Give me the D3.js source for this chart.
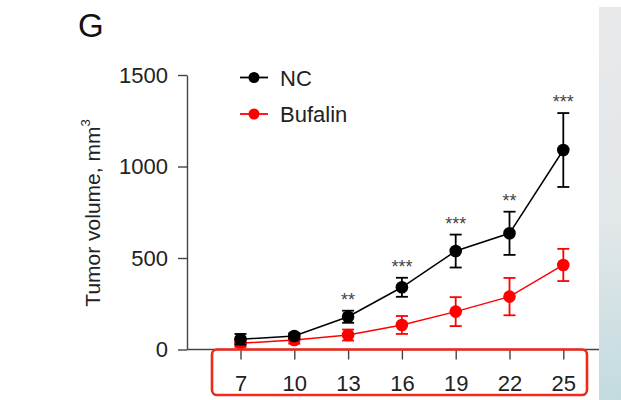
<!DOCTYPE html>
<html><head><meta charset="utf-8">
<script src="https://cdn.jsdelivr.net/npm/d3@7"></script>
<style>body{margin:0;background:#fff}svg{display:block}text{font-family:"Liberation Sans",Arial,sans-serif}</style>
</head><body>
<script>
const days = [7, 10, 13, 16, 19, 22, 25];
const ncMean = [56, 74, 179, 340, 538, 635, 1090];
const ncErr = [29, 15, 33, 52, 90, 118, 202];
const bufMean = [34, 52, 79, 134, 207, 289, 462];
const bufErr = [20, 20, 30, 49, 79, 102, 88];
const sigLabels = ["", "", "**", "***", "***", "**", "***"];
const yTicks = [0, 500, 1000, 1500];
const seriesNames = ["NC", "Bufalin"];
const seriesColors = ["#000000", "#ff0000"];

const W = 621, H = 400;
const svg = d3.select("body").append("svg").attr("width", W).attr("height", H);

// right gray panel
const defs = svg.append("defs");
const grad = defs.append("linearGradient").attr("id", "pg").attr("x1", 0).attr("y1", 0).attr("x2", 0).attr("y2", 1);
grad.append("stop").attr("offset", "0").attr("stop-color", "#e8e9eb");
grad.append("stop").attr("offset", "0.55").attr("stop-color", "#e2e7e9");
grad.append("stop").attr("offset", "1").attr("stop-color", "#c2dbdf");
svg.append("rect").attr("x", 599).attr("y", 7).attr("width", 22).attr("height", 393).attr("fill", "url(#pg)");

const x = d3.scaleLinear().domain([7, 25]).range([240.5, 563.3]);
const y = d3.scaleLinear().domain([0, 1500]).range([349.5, 75]);

// panel letter
svg.append("text").attr("x", 78).attr("y", 37).attr("font-size", 33).attr("font-family", "'Open Sans',sans-serif").attr("fill", "#111").text("G");

const axisColor = "#444";
// y axis
const yAxis = d3.axisLeft(y).tickValues(yTicks).tickFormat(d3.format("d")).tickSize(9).tickPadding(10).tickSizeOuter(0);
const gy = svg.append("g").attr("transform", "translate(187,0)").call(yAxis);
gy.select(".domain").attr("stroke", axisColor).attr("stroke-width", 1.4);
gy.selectAll(".tick line").attr("stroke", axisColor).attr("stroke-width", 1.4);
gy.selectAll(".tick text").attr("font-size", 22).attr("fill", "#222").attr("font-family", "'Liberation Sans',Arial,sans-serif");

// x axis
const xAxis = d3.axisBottom(x).tickValues(days).tickFormat(d3.format("d")).tickSize(10).tickPadding(16).tickSizeOuter(0);
const gx = svg.append("g").attr("transform", "translate(0,349.5)").call(xAxis);
gx.select(".domain").attr("d", "M187,0H599").attr("stroke", axisColor).attr("stroke-width", 1.4);
gx.selectAll(".tick line").attr("stroke", axisColor).attr("stroke-width", 1.4);
gx.selectAll(".tick text").attr("font-size", 22).attr("fill", "#222").attr("font-family", "'Liberation Sans',Arial,sans-serif");

// y label
const yl = svg.append("text").attr("transform", "translate(100,213) rotate(-90)").attr("text-anchor", "middle")
  .attr("font-size", 21).attr("fill", "#222");
yl.append("tspan").text("Tumor volume, mm");
yl.append("tspan").attr("dy", -10).attr("font-size", 13).text("3");

// series
const series = [
  {name: seriesNames[0], mean: ncMean, err: ncErr, color: seriesColors[0]},
  {name: seriesNames[1], mean: bufMean, err: bufErr, color: seriesColors[1]}
];
const line = d3.line().x((d, i) => x(days[i])).y(d => y(d));
[series[1], series[0]].forEach(s => {
  const g = svg.append("g");
  g.append("path").attr("d", line(s.mean)).attr("fill", "none").attr("stroke", s.color).attr("stroke-width", 1.5);
  const eb = g.selectAll(".eb").data(s.mean).enter().append("g");
  eb.append("line").attr("x1", (d, i) => x(days[i])).attr("x2", (d, i) => x(days[i]))
    .attr("y1", (d, i) => y(d + s.err[i])).attr("y2", (d, i) => y(d - s.err[i]))
    .attr("stroke", s.color).attr("stroke-width", 1.8);
  [1, -1].forEach(sg => {
    eb.append("line").attr("x1", (d, i) => x(days[i]) - 6).attr("x2", (d, i) => x(days[i]) + 6)
      .attr("y1", (d, i) => y(d + sg * s.err[i])).attr("y2", (d, i) => y(d + sg * s.err[i]))
      .attr("stroke", s.color).attr("stroke-width", 1.8);
  });
  g.selectAll("circle").data(s.mean).enter().append("circle")
    .attr("cx", (d, i) => x(days[i])).attr("cy", d => y(d)).attr("r", 6.3).attr("fill", s.color);
});

// significance
svg.selectAll(".sig").data(sigLabels).enter().append("text")
  .attr("x", (d, i) => x(days[i])).attr("y", (d, i) => y(ncMean[i] + ncErr[i]) - 5)
  .attr("text-anchor", "middle").attr("font-size", 18).attr("fill", "#444").text(d => d);

// legend
series.forEach((s, i) => {
  const ly = 77.5 + i * 36.5;
  svg.append("line").attr("x1", 240).attr("x2", 268).attr("y1", ly).attr("y2", ly).attr("stroke", s.color).attr("stroke-width", 1.8);
  svg.append("circle").attr("cx", 254).attr("cy", ly).attr("r", 5.5).attr("fill", s.color);
  svg.append("text").attr("x", 280).attr("y", ly + 8).attr("font-size", 22).attr("fill", "#222").text(s.name);
});

// red highlight box
svg.append("rect").attr("x", 212).attr("y", 349.5).attr("width", 375).attr("height", 45.5).attr("rx", 5)
  .attr("fill", "none").attr("stroke", "#ee2a1c").attr("stroke-width", 2.6);
</script>
</body></html>
